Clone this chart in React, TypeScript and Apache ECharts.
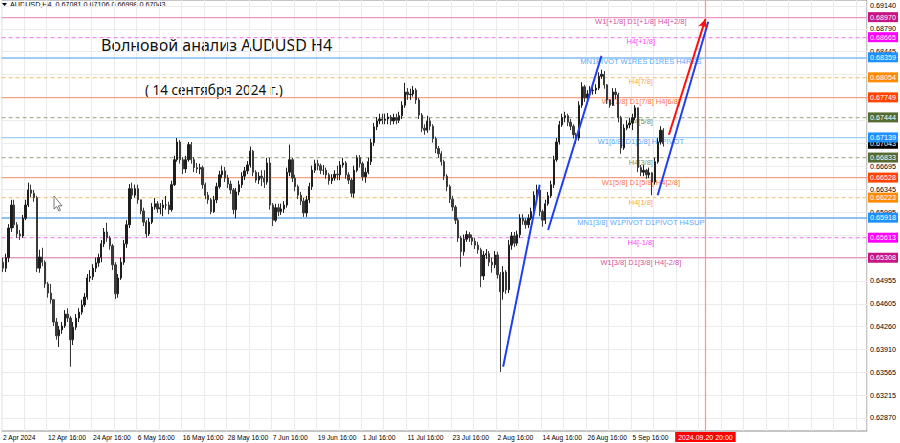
import React, { useEffect, useRef } from 'react';
import * as echarts from 'echarts';

const FONT = "'Liberation Sans', Arial, sans-serif";

// Half-day candles (AUDUSD H4 chart, 2 Apr 2024 PM .. 13 Sep 2024 PM)
const firstOpen = 0.6524;
const closes = [
  0.6515, 0.6531, 0.6576, 0.6611, 0.6581, 0.6567, 0.6564, 0.6591, 0.6611, 0.6634,
  0.6629, 0.6622, 0.6515, 0.6532, 0.6524, 0.6491, 0.6477, 0.6467, 0.6433, 0.6412,
  0.6421, 0.6427, 0.6445, 0.6439, 0.6406, 0.6425, 0.6439, 0.6448, 0.6459, 0.6471,
  0.6500, 0.6502, 0.6515, 0.6523, 0.6531, 0.6552, 0.6570, 0.6561, 0.6549, 0.6520,
  0.6476, 0.6500, 0.6524, 0.6552, 0.6581, 0.6636, 0.6626, 0.6636, 0.6619, 0.6602,
  0.6585, 0.6567, 0.6585, 0.6608, 0.6613, 0.6605, 0.6607, 0.6611, 0.6611, 0.6604,
  0.6642, 0.6680, 0.6707, 0.6680, 0.6666, 0.6680, 0.6703, 0.6680, 0.6668, 0.6666,
  0.6668, 0.6642, 0.6626, 0.6619, 0.6601, 0.6619, 0.6639, 0.6657, 0.6663, 0.6652,
  0.6643, 0.6634, 0.6604, 0.6631, 0.6642, 0.6655, 0.6663, 0.6672, 0.6693, 0.6661,
  0.6649, 0.6655, 0.6652, 0.6646, 0.6675, 0.6611, 0.6588, 0.6607, 0.6601, 0.6605,
  0.6611, 0.6661, 0.6680, 0.6652, 0.6639, 0.6626, 0.6617, 0.6599, 0.6619, 0.6639,
  0.6664, 0.6674, 0.6671, 0.6664, 0.6664, 0.6657, 0.6648, 0.6652, 0.6658, 0.6657,
  0.6672, 0.6675, 0.6657, 0.6649, 0.6629, 0.6664, 0.6683, 0.6674, 0.6654, 0.6661,
  0.6677, 0.6706, 0.6730, 0.6739, 0.6742, 0.6740, 0.6742, 0.6745, 0.6739, 0.6744,
  0.6740, 0.6747, 0.6763, 0.6783, 0.6779, 0.6780, 0.6786, 0.6771, 0.6748, 0.6728,
  0.6725, 0.6739, 0.6731, 0.6712, 0.6697, 0.6689, 0.6677, 0.6655, 0.6639, 0.6620,
  0.6608, 0.6588, 0.6561, 0.6540, 0.6559, 0.6566, 0.6561, 0.6556, 0.6550, 0.6543,
  0.6503, 0.6535, 0.6537, 0.6524, 0.6520, 0.6535, 0.6505, 0.6479, 0.6509, 0.6482,
  0.6550, 0.6564, 0.6553, 0.6566, 0.6591, 0.6587, 0.6581, 0.6591, 0.6601, 0.6626,
  0.6634, 0.6601, 0.6588, 0.6613, 0.6625, 0.6642, 0.6680, 0.6707, 0.6733, 0.6744,
  0.6747, 0.6737, 0.6731, 0.6718, 0.6713, 0.6763, 0.6791, 0.6774, 0.6780, 0.6785,
  0.6786, 0.6789, 0.6807, 0.6810, 0.6794, 0.6771, 0.6763, 0.6783, 0.6779, 0.6744,
  0.6698, 0.6728, 0.6733, 0.6736, 0.6744, 0.6759, 0.6668, 0.6661, 0.6664, 0.6657,
  0.6660, 0.6646, 0.6677, 0.6707, 0.6725, 0.67043,
];
const highs = [
  0.6531, 0.6537, 0.6582, 0.6619, 0.6619, 0.6585, 0.6573, 0.6596, 0.6619, 0.6645,
  0.6642, 0.6634, 0.6625, 0.6543, 0.6546, 0.6527, 0.6494, 0.6491, 0.6467, 0.6439,
  0.6427, 0.6433, 0.6451, 0.6454, 0.6442, 0.6433, 0.6445, 0.6454, 0.6467, 0.6477,
  0.6506, 0.6512, 0.6521, 0.6531, 0.6537, 0.6558, 0.6576, 0.6584, 0.6564, 0.6552,
  0.6524, 0.6506, 0.6531, 0.6558, 0.6588, 0.6643, 0.6645, 0.6642, 0.6642, 0.6619,
  0.6607, 0.6588, 0.6591, 0.6614, 0.6622, 0.6617, 0.6614, 0.6619, 0.6625, 0.6616,
  0.6648, 0.6686, 0.6713, 0.6710, 0.6684, 0.6686, 0.6707, 0.6707, 0.6684, 0.6675,
  0.6674, 0.6671, 0.6645, 0.6631, 0.6622, 0.6625, 0.6645, 0.6663, 0.6671, 0.6669,
  0.6657, 0.6648, 0.6637, 0.6637, 0.6648, 0.6661, 0.6669, 0.6678, 0.6700, 0.6695,
  0.6664, 0.6661, 0.6664, 0.6664, 0.6683, 0.6683, 0.6614, 0.6613, 0.6613, 0.6613,
  0.6617, 0.6668, 0.6703, 0.6683, 0.6657, 0.6642, 0.6631, 0.6622, 0.6625, 0.6645,
  0.6671, 0.6680, 0.6680, 0.6674, 0.6672, 0.6668, 0.6660, 0.6658, 0.6664, 0.6671,
  0.6678, 0.6683, 0.6678, 0.6661, 0.6652, 0.6671, 0.6687, 0.6687, 0.6677, 0.6668,
  0.6683, 0.6712, 0.6736, 0.6745, 0.6750, 0.6750, 0.6750, 0.6751, 0.6748, 0.6750,
  0.6750, 0.6753, 0.6769, 0.6797, 0.6789, 0.6788, 0.6792, 0.6789, 0.6774, 0.6751,
  0.6734, 0.6747, 0.6744, 0.6734, 0.6715, 0.6701, 0.6693, 0.6680, 0.6658, 0.6642,
  0.6625, 0.6611, 0.6591, 0.6564, 0.6566, 0.6572, 0.6570, 0.6566, 0.6561, 0.6555,
  0.6546, 0.6541, 0.6544, 0.6541, 0.6531, 0.6541, 0.6540, 0.6509, 0.6518, 0.6512,
  0.6558, 0.6570, 0.6570, 0.6572, 0.6597, 0.6597, 0.6591, 0.6597, 0.6607, 0.6632,
  0.6642, 0.6637, 0.6604, 0.6619, 0.6631, 0.6648, 0.6686, 0.6713, 0.6739, 0.6750,
  0.6753, 0.6750, 0.6742, 0.6734, 0.6721, 0.6769, 0.6798, 0.6794, 0.6786, 0.6792,
  0.6794, 0.6795, 0.6813, 0.6817, 0.6815, 0.6795, 0.6772, 0.6789, 0.6789, 0.6782,
  0.6747, 0.6734, 0.6740, 0.6744, 0.6750, 0.6763, 0.6759, 0.6672, 0.6672, 0.6666,
  0.6668, 0.6661, 0.6683, 0.6713, 0.6731, 0.6728,
];
const lows = [
  0.6509, 0.6509, 0.6524, 0.6570, 0.6576, 0.6561, 0.6558, 0.6561, 0.6588, 0.6608,
  0.6623, 0.6616, 0.6509, 0.6508, 0.6518, 0.6485, 0.6470, 0.6461, 0.6427, 0.6406,
  0.6395, 0.6415, 0.6424, 0.6433, 0.6365, 0.6398, 0.6421, 0.6433, 0.6444, 0.6456,
  0.6467, 0.6494, 0.6497, 0.6509, 0.6517, 0.6524, 0.6547, 0.6555, 0.6543, 0.6512,
  0.6468, 0.6470, 0.6497, 0.6520, 0.6546, 0.6576, 0.6620, 0.6622, 0.6613, 0.6597,
  0.6579, 0.6561, 0.6564, 0.6582, 0.6604, 0.6599, 0.6597, 0.6594, 0.6604, 0.6597,
  0.6601, 0.6640, 0.6677, 0.6674, 0.6658, 0.6660, 0.6677, 0.6674, 0.6661, 0.6660,
  0.6658, 0.6636, 0.6620, 0.6613, 0.6597, 0.6599, 0.6614, 0.6636, 0.6652, 0.6646,
  0.6637, 0.6628, 0.6597, 0.6591, 0.6626, 0.6637, 0.6649, 0.6658, 0.6668, 0.6655,
  0.6645, 0.6643, 0.6640, 0.6637, 0.6642, 0.6604, 0.6579, 0.6585, 0.6594, 0.6596,
  0.6599, 0.6607, 0.6655, 0.6646, 0.6632, 0.6620, 0.6611, 0.6593, 0.6593, 0.6614,
  0.6634, 0.6660, 0.6664, 0.6658, 0.6657, 0.6651, 0.6642, 0.6643, 0.6648, 0.6649,
  0.6649, 0.6668, 0.6651, 0.6643, 0.6623, 0.6622, 0.6661, 0.6668, 0.6648, 0.6645,
  0.6658, 0.6672, 0.6701, 0.6725, 0.6734, 0.6734, 0.6734, 0.6734, 0.6733, 0.6734,
  0.6734, 0.6736, 0.6742, 0.6759, 0.6771, 0.6771, 0.6776, 0.6765, 0.6742, 0.6722,
  0.6718, 0.6721, 0.6725, 0.6706, 0.6690, 0.6683, 0.6671, 0.6649, 0.6632, 0.6614,
  0.6602, 0.6582, 0.6555, 0.6517, 0.6534, 0.6555, 0.6555, 0.6550, 0.6544, 0.6537,
  0.6486, 0.6497, 0.6529, 0.6518, 0.6508, 0.6515, 0.6499, 0.6357, 0.6467, 0.6476,
  0.6477, 0.6543, 0.6547, 0.6549, 0.6561, 0.6581, 0.6575, 0.6576, 0.6588, 0.6597,
  0.6622, 0.6594, 0.6578, 0.6582, 0.6610, 0.6622, 0.6637, 0.6677, 0.6703, 0.6730,
  0.6737, 0.6731, 0.6725, 0.6712, 0.6704, 0.6709, 0.6759, 0.6768, 0.6766, 0.6777,
  0.6779, 0.6780, 0.6786, 0.6803, 0.6788, 0.6765, 0.6759, 0.6762, 0.6772, 0.6737,
  0.6689, 0.6695, 0.6725, 0.6728, 0.6725, 0.6740, 0.6661, 0.6655, 0.6655, 0.6651,
  0.6652, 0.6626, 0.6642, 0.6674, 0.6703, 0.6700,
];

const timeLabels = [
  '2 Apr 2024', '12 Apr 16:00', '24 Apr 16:00', '6 May 16:00', '16 May 16:00',
  '28 May 16:00', '7 Jun 16:00', '19 Jun 16:00', '1 Jul 16:00', '11 Jul 16:00',
  '23 Jul 16:00', '2 Aug 16:00', '14 Aug 16:00', '26 Aug 16:00', '5 Sep 16:00',
];
const LABEL_EVERY = 16; // half-day slots between time labels
const SLOT_COUNT = 308; // half-day slots across the plot, incl. future space

// price grid lines; labels hidden where the level tags cover them
const priceTicks = [
  0.6914, 0.6879, 0.68445, 0.68095, 0.6775, 0.674, 0.67055, 0.66695, 0.66345, 0.65995,
  0.6565, 0.653, 0.64955, 0.64605, 0.6426, 0.6391, 0.63565, 0.63215, 0.6287,
];
const coveredTickLabels = [0.68095, 0.6775, 0.674, 0.67055, 0.6565, 0.653];
const Y_MIN = 0.62671;
const Y_MAX = 0.69231;

const levelPrices = [
  0.6897, 0.68665, 0.68359, 0.68054, 0.67749, 0.67444, 0.67139, 0.66833, 0.66528,
  0.66223, 0.65918, 0.65613, 0.65308,
];
const levelNames = [
  'W1[+1/8] D1[+1/8] H4[+2/8]', 'H4[+1/8]', 'MN1PIVOT W1RES D1RES H4RES', 'H4[7/8]',
  'W1[7/8] D1[7/8] H4[6/8]', 'H4[5/8]', 'W1[6/8] D1[6/8] H4PIVOT', 'H4[3/8]',
  'W1[5/8] D1[5/8] H4[2/8]', 'H4[1/8]', 'MN1[3/8] W1PIVOT D1PIVOT H4SUP', 'H4[-1/8]',
  'W1[3/8] D1[3/8] H4[-2/8]',
];
const levelColors = [
  '#c71585', '#ff00ff', '#1e90ff', '#ff8c00', '#ff4500', '#556b2f', '#1e90ff',
  '#556b2f', '#ff4500', '#ff8c00', '#1e90ff', '#ff00ff', '#c71585',
];
const levelLineColors = [
  '#e996c4', '#f58cf5', '#80bbf4', '#f8c68a', '#f7a086', '#a9b391', '#a3cdf6',
  '#a9b391', '#f7a086', '#f8c68a', '#6aadf1', '#f58cf5', '#e996c4',
];
const levelDashed = [false, true, false, true, false, true, false, true, false, true, false, true, false];
const LEVEL_TEXT_SLOT = 227;

const lastPrice = 0.67043;
const headerText = 'AUDUSD,H4  0.67081 0.67106 0.66998 0.67043';
const futureSlot = 250;
const futureLabel = '2024.09.20 20:00';

const blueTrendLines: [number, number][][] = [
  [[178, 0.6365], [191, 0.6642]],
  [[194, 0.6573], [213, 0.6838]],
  [[233, 0.6626], [251, 0.6890]],
];
const redArrow: [number, number][] = [[237, 0.6718], [250, 0.6894]];

const titleText = 'Волновой анализ AUDUSD H4';
const subtitleText = '( 14 сентября 2024 г.)';

const tagLabel = {
  position: 'end',
  distance: 1,
  fontSize: 7.2,
  color: '#fff',
  fontFamily: FONT,
  padding: [2, 2, 1, 2],
};

function levelSeries(price: number, lineColor: string, tagColor: string, width: number, dashed: boolean, lineOpacity: number) {
  return {
    type: 'line',
    data: [],
    silent: true,
    markLine: {
      silent: true,
      z: 2,
      precision: 5,
      symbol: 'none',
      animation: false,
      lineStyle: {
        color: lineColor,
        width,
        type: dashed ? [4, 3] : 'solid',
        opacity: lineOpacity,
      },
      label: { ...tagLabel, backgroundColor: tagColor, opacity: 1, formatter: price.toFixed(5) },
      data: [{ yAxis: price }],
    },
  };
}

function buildOption() {
  const categories = Array.from({ length: SLOT_COUNT }, (_, i) => String(i));
  const candles = closes.map((c, i) => [i === 0 ? firstOpen : closes[i - 1], c, lows[i], highs[i]]);

  const levels: any[] = [levelSeries(lastPrice, '#000000', '#000000', 1, false, 0)];
  levelPrices.forEach((p, i) => {
    levels.push(
      levelSeries(
        p,
        levelLineColors[i],
        levelColors[i],
        levelNames[i].startsWith('MN1') ? 1.5 : 1.25,
        levelDashed[i],
        1,
      ),
    );
  });

  const trendData: any[] = blueTrendLines.map((seg) => [
    { coord: seg[0], symbol: 'none' },
    { coord: seg[1], symbol: 'none' },
  ]);

  return {
    animation: false,
    backgroundColor: '#ffffff',
    textStyle: { fontFamily: FONT },
    grid: {
      left: 1,
      right: 33,
      top: 0,
      bottom: 12,
      show: true,
      borderColor: '#8c8c8c',
      borderWidth: 1,
    },
    xAxis: {
      type: 'category',
      data: categories,
      boundaryGap: true,
      axisLine: { show: false },
      axisTick: { show: false },
      axisLabel: {
        interval: (i: number) => i % LABEL_EVERY === 0 && i / LABEL_EVERY < timeLabels.length,
        formatter: (_v: string, i: number) => timeLabels[i / LABEL_EVERY] ?? '',
        align: 'left',
        margin: 3,
        fontSize: 6.7,
        color: '#000',
        fontFamily: FONT,
      },
      splitLine: { show: true, interval: 7, lineStyle: { color: '#ebebeb', width: 1 } },
    },
    yAxis: {
      type: 'value',
      min: Y_MIN,
      max: Y_MAX,
      show: false,
      splitLine: { show: false },
    },
    graphic: [
      {
        type: 'polygon',
        shape: { points: [[2, 3], [7, 3], [4.5, 6]] },
        style: { fill: '#000' },
      },
      {
        type: 'text',
        left: 10,
        top: 1,
        style: { text: headerText, fontSize: 7.2, fill: '#000', fontFamily: FONT },
      },
      {
        type: 'text',
        left: 101,
        top: 37,
        style: { text: titleText, fontSize: 16, fill: '#111', fontFamily: "'Noto Sans', sans-serif" },
      },
      {
        type: 'text',
        left: 145,
        top: 83,
        style: { text: subtitleText, fontSize: 13.5, fill: '#111', fontFamily: "'Noto Sans', sans-serif" },
      },
      {
        type: 'polygon',
        shape: {
          points: [[54, 196], [54, 209], [56.8, 206.5], [58.8, 211], [60.4, 210.3], [58.5, 205.8], [62, 205.8]],
        },
        style: { fill: '#fff', stroke: '#555', lineWidth: 0.8 },
      },
    ],
    series: [
      {
        name: 'grid',
        type: 'line',
        data: [],
        silent: true,
        markLine: {
          silent: true,
          z: 1,
          precision: 5,
          symbol: 'none',
          animation: false,
          lineStyle: { color: '#ebebeb', width: 1, type: 'solid' },
          label: {
            position: 'end',
            distance: 3,
            fontSize: 7.2,
            color: '#000',
            fontFamily: FONT,
          },
          data: priceTicks.map((v) => ({
            yAxis: v,
            label: {
              show: !coveredTickLabels.includes(v),
              formatter: v.toFixed(5),
            },
          })),
        },
      },
      ...levels,
      {
        name: 'levelText',
        type: 'scatter',
        z: 2,
        silent: true,
        symbolSize: 0.1,
        itemStyle: { color: 'rgba(0,0,0,0)' },
        label: {
          show: true,
          position: 'inside',
          offset: [0, 4.5],
          fontSize: 7.5,
          fontFamily: FONT,
        },
        data: levelPrices.map((p, i) => ({
          value: [LEVEL_TEXT_SLOT, p],
          label: { formatter: levelNames[i], color: levelColors[i] },
        })),
      },
      {
        name: 'AUDUSD,H4',
        type: 'candlestick',
        z: 3,
        barWidth: 1.8,
        data: candles,
        itemStyle: {
          color: '#1e1e1e',
          color0: '#3a3a3a',
          borderColor: '#1e1e1e',
          borderColor0: '#3a3a3a',
          borderWidth: 1,
        },
        markLine: {
          silent: true,
          z: 4,
          precision: 5,
          symbol: 'none',
          animation: false,
          label: { show: false },
          lineStyle: { color: '#2040f0', width: 2, type: 'solid' },
          data: trendData,
        },
      },
      {
        name: 'arrow',
        type: 'line',
        data: [],
        silent: true,
        markLine: {
          silent: true,
          z: 4,
          precision: 5,
          symbol: ['none', 'arrow'],
          symbolSize: [7, 9],
          animation: false,
          label: { show: false },
          lineStyle: { color: '#ff1010', width: 2, type: 'solid' },
          data: [[{ coord: redArrow[0] }, { coord: redArrow[1] }]],
        },
      },
      {
        name: 'future',
        type: 'line',
        data: [],
        silent: true,
        markLine: {
          silent: true,
          z: 2,
          precision: 5,
          symbol: 'none',
          animation: false,
          lineStyle: { color: '#f39a9a', width: 1.25, type: 'solid' },
          label: {
            show: true,
            position: 'start',
            distance: 1,
            formatter: futureLabel,
            backgroundColor: '#ff0000',
            color: '#fff',
            padding: [2, 3, 1, 3],
            fontSize: 7,
            fontFamily: FONT,
          },
          data: [{ xAxis: futureSlot }],
        },
      },
    ],
  };
}

export default function App() {
  const ref = useRef<HTMLDivElement>(null);
  useEffect(() => {
    if (!ref.current) return;
    const chart = echarts.init(ref.current, undefined, { renderer: 'svg' });
    chart.setOption(buildOption() as any);
    return () => chart.dispose();
  }, []);
  return (
    <div
      ref={ref}
      style={{ position: 'absolute', left: 0, top: 0, width: 900, height: 443 }}
    />
  );
}
